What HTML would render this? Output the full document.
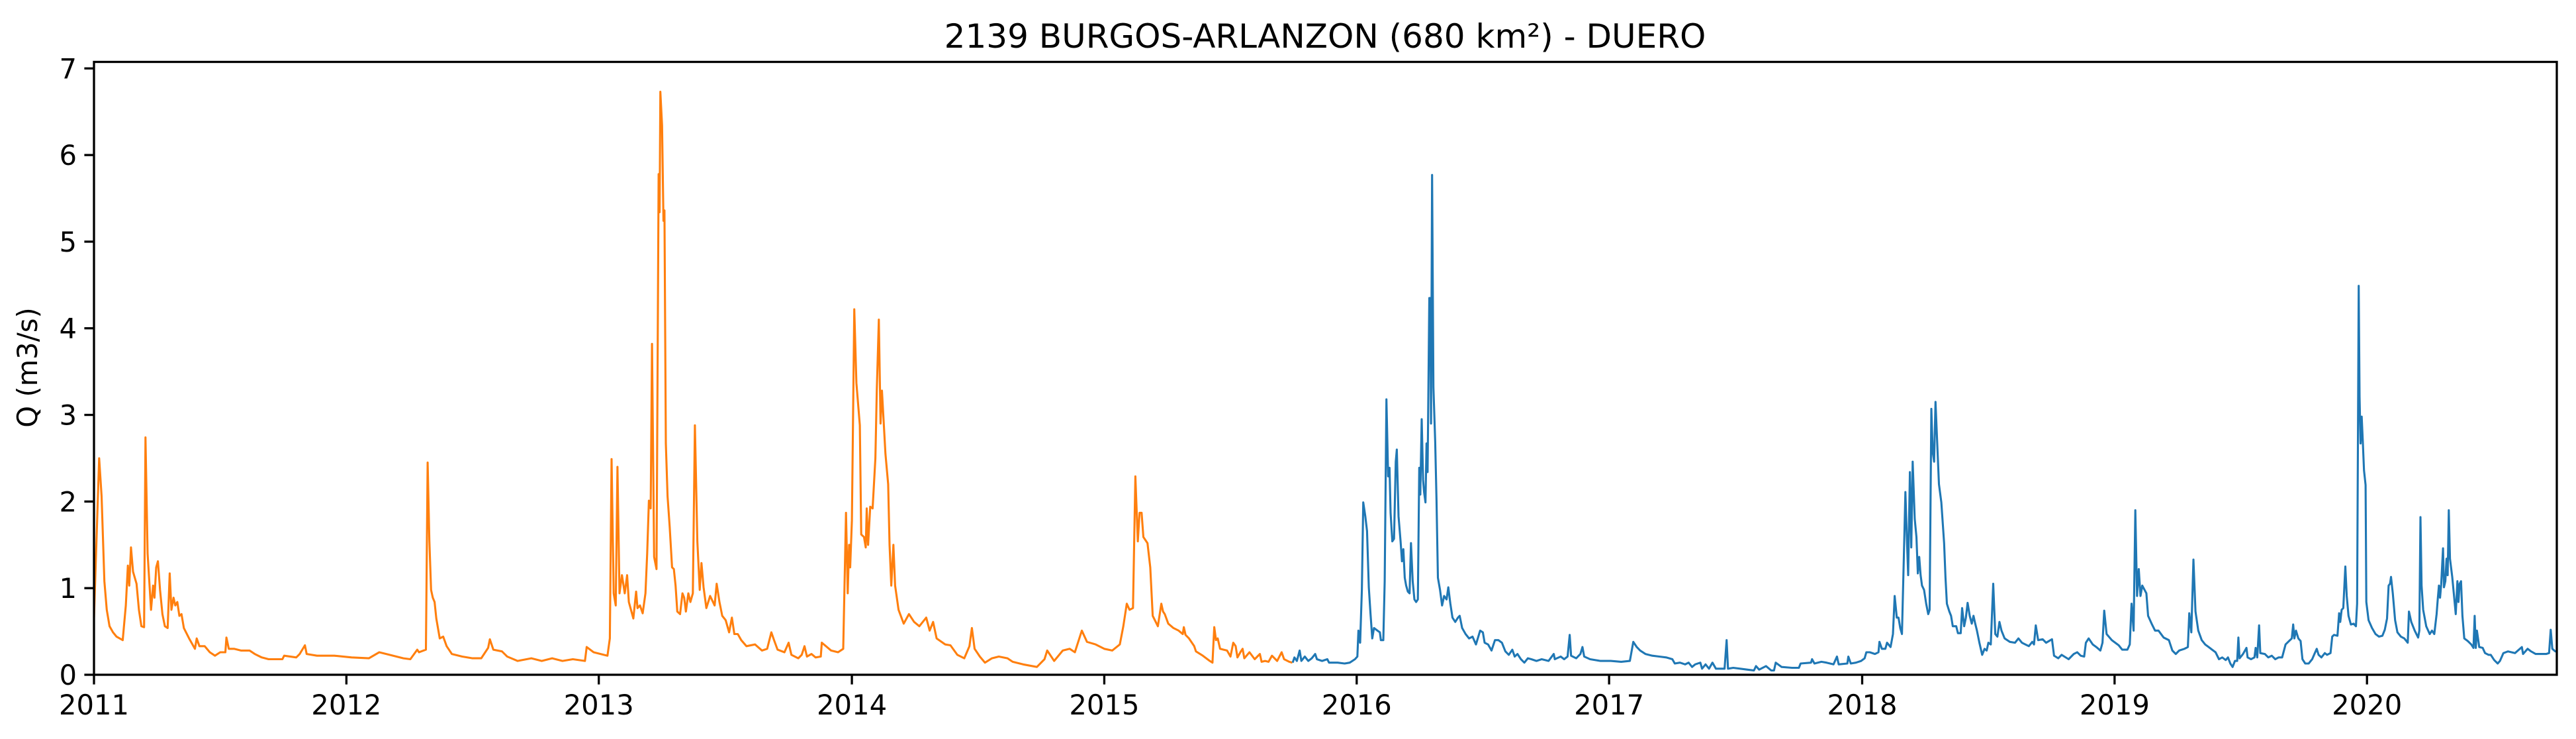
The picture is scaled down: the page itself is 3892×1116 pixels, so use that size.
<!DOCTYPE html>
<html><head><meta charset="utf-8"><style>
html,body{margin:0;padding:0;background:#fff;}
svg{display:block;font-family:"DejaVu Sans","Liberation Sans",sans-serif;}
</style></head><body>
<svg id="chart" width="3892" height="1116" viewBox="0 0 3892 1116" xmlns="http://www.w3.org/2000/svg">
<rect x="0" y="0" width="3892" height="1116" fill="#fff"/>
<text x="2002" y="72" font-size="50" text-anchor="middle">2139 BURGOS-ARLANZON (680 km²) - DUERO</text>
<text transform="translate(56,555) rotate(-90)" font-size="41.7" text-anchor="middle">Q (m3/s)</text>
<g id="series"></g>
<g id="axes"></g>
</svg>
<script>
const xTickLabels = ["2011","2012","2013","2014","2015","2016","2017","2018","2019","2020"];
const xTickDays = [0,365,730,1096,1461,1826,2191,2557,2922,3287];
const yTickLabels = ["0","1","2","3","4","5","6","7"];
const yTickValues = [0,1,2,3,4,5,6,7];
const orangeDays = [0,7.5,11,15,18.5,22.5,27.5,32.5,41.5,46,49,51,53.5,56.5,61.5,65,68.5,72.5,74.5,77.5,82.5,85.5,87.5,90,92.5,95.5,99,102.5,106.5,109.5,112,115,117.5,120.5,123.5,126.5,130,137.5,146,148.5,152.5,160,167.5,175,182.5,190,191.5,195,202.5,212.5,225,232.5,242.5,252.5,272.5,275,292.5,297.5,305,307.5,322.5,347.5,372.5,397.5,412.5,427.5,447.5,457.5,467.5,470,480,482.5,485,487.5,490,492.5,495,500,505,510,517.5,532.5,547.5,560,570,572.5,577.5,590,597.5,612.5,632.5,647.5,662.5,677.5,692.5,710,712.5,722.5,742.5,746,748.5,751.5,754.5,757,760,763.5,767.5,771,773.5,780,784,786,789.5,793.5,797.5,800,802.5,805,807,810,813.5,816.5,818,819,821.5,823.5,825,827,829.5,832.5,836,838.5,841,843.5,847.5,851,853.5,856,859.5,862.5,866,869,872.5,876,878.5,881.5,885.5,891,897.5,900.5,904.5,908.5,913.5,918.5,922.5,926,931,936,943.5,956,966,973.5,979.5,983.5,988.5,998.5,1004.5,1008.5,1018.5,1023.5,1027.5,1031,1037.5,1043.5,1051,1052.5,1058.5,1066,1076,1083.5,1087.5,1090,1092,1093.5,1096,1099.5,1102.5,1107.5,1109.5,1113.5,1116,1117.5,1119.5,1122.5,1126,1130,1132,1135,1137.5,1139.5,1144.5,1148.5,1150.5,1153,1156,1158.5,1163.5,1171,1178.5,1186,1193.5,1203.5,1208.5,1213.5,1218.5,1231,1238.5,1248.5,1258.5,1266,1269.5,1273.5,1281,1288.5,1298.5,1308.5,1321,1328.5,1343.5,1363.5,1374.5,1378.5,1388.5,1401,1411,1418.5,1428.5,1436,1448.5,1461,1472.5,1483.5,1488.5,1493.5,1497.5,1502.5,1506,1509.5,1512,1515,1517.5,1523.5,1527.5,1531,1538.5,1543.5,1546,1548.5,1553.5,1561,1568.5,1574.5,1576,1578.5,1583.5,1591,1593.5,1603.5,1613.5,1617.5,1620,1622.5,1625,1628.5,1633.5,1638.5,1643.5,1647.5,1651,1653.5,1658.5,1661,1663.5,1671,1678.5,1686,1688.5,1693.5,1698.5,1703.5,1711,1717.5,1721,1728.5,1733];
const orangeQ = [0.66,2.5,2.06,1.08,0.75,0.56,0.49,0.44,0.40,0.80,1.26,1.03,1.47,1.19,1.05,0.75,0.56,0.55,2.74,1.40,0.75,1.03,0.89,1.24,1.31,0.98,0.70,0.56,0.54,1.17,0.75,0.89,0.80,0.84,0.68,0.70,0.54,0.42,0.30,0.42,0.33,0.33,0.26,0.22,0.26,0.26,0.43,0.30,0.30,0.28,0.28,0.24,0.20,0.18,0.18,0.22,0.20,0.24,0.34,0.24,0.22,0.22,0.20,0.19,0.26,0.23,0.19,0.18,0.29,0.26,0.29,2.45,1.55,0.98,0.89,0.84,0.65,0.42,0.44,0.33,0.24,0.21,0.19,0.19,0.31,0.41,0.29,0.27,0.21,0.16,0.19,0.16,0.19,0.16,0.18,0.16,0.32,0.26,0.22,0.42,2.49,0.94,0.80,2.40,0.94,1.15,0.94,1.15,0.84,0.65,0.96,0.77,0.80,0.71,0.94,1.40,2.01,1.92,3.82,1.36,1.22,5.78,5.34,6.73,6.34,5.24,5.36,2.67,2.06,1.71,1.24,1.22,1.03,0.73,0.70,0.94,0.89,0.73,0.94,0.84,0.94,2.88,1.54,0.98,1.29,1.01,0.77,0.91,0.80,1.05,0.84,0.68,0.63,0.49,0.66,0.47,0.47,0.40,0.33,0.35,0.28,0.30,0.49,0.40,0.29,0.26,0.37,0.23,0.19,0.23,0.33,0.21,0.24,0.20,0.21,0.37,0.33,0.28,0.26,0.30,1.87,0.94,1.50,1.24,1.78,4.22,3.37,2.88,1.62,1.59,1.47,1.92,1.50,1.94,1.92,2.50,3.28,4.10,2.90,3.28,2.55,2.20,1.50,1.03,1.50,1.03,0.75,0.59,0.70,0.61,0.56,0.66,0.51,0.61,0.42,0.35,0.34,0.23,0.19,0.33,0.54,0.30,0.21,0.14,0.19,0.21,0.19,0.15,0.12,0.09,0.18,0.28,0.16,0.28,0.30,0.26,0.51,0.38,0.35,0.30,0.28,0.35,0.56,0.82,0.75,0.77,2.29,1.54,1.87,1.87,1.59,1.52,1.24,0.68,0.56,0.82,0.73,0.70,0.59,0.54,0.51,0.47,0.55,0.46,0.42,0.33,0.27,0.22,0.16,0.14,0.55,0.40,0.42,0.30,0.29,0.28,0.21,0.37,0.33,0.20,0.27,0.30,0.19,0.26,0.18,0.24,0.15,0.16,0.15,0.22,0.16,0.26,0.18,0.15,0.14];
const blueDays = [1733.5,1736,1739.5,1743.5,1746,1751,1756,1761,1766,1768.5,1776,1783.5,1786,1798.5,1808.5,1816,1823.5,1827,1828.5,1831,1833.5,1835.5,1838.5,1841,1843.5,1846,1848.5,1851,1856,1859.5,1861,1864.5,1866.5,1869,1871.5,1873.5,1875,1877.5,1880,1882.5,1884,1886.5,1889.5,1891.5,1893.5,1895.5,1897.5,1900,1902.5,1904.5,1907,1909.5,1912,1914.5,1916.5,1918,1920,1922,1923.5,1925.5,1927,1928.5,1931,1932.5,1933.5,1935,1937,1939.5,1941.5,1943.5,1946.5,1949.5,1952.5,1956,1958.5,1961.5,1964.5,1968.5,1972.5,1975,1978.5,1983.5,1988.5,1993.5,1998.5,2004.5,2008.5,2011,2016,2021,2026,2031,2036,2041,2046,2051,2054.5,2058.5,2063.5,2068.5,2073.5,2078.5,2086,2093.5,2103.5,2111,2112.5,2121,2126,2131,2134,2136,2143.5,2149.5,2152.5,2155,2163.5,2178.5,2193.5,2208.5,2221,2226,2231,2236,2243.5,2253.5,2263.5,2273.5,2282.5,2286,2293.5,2301,2306,2311,2315.5,2323,2325.5,2330.5,2335.5,2340.5,2345.5,2358,2361,2363,2370.5,2380.5,2390.5,2400.5,2403.5,2408,2418,2425.5,2429.5,2432,2440.5,2455.5,2465.5,2468,2483,2484.5,2488,2498,2505.5,2515.5,2520.5,2523,2535.5,2537,2540.5,2548,2555.5,2560.5,2563,2568,2575.5,2580.5,2582,2585.5,2590.5,2593,2598,2601.5,2604,2607,2609.5,2612,2614.5,2618,2619.5,2622,2623.5,2626,2628,2630,2633,2635.5,2637.5,2639.5,2641.5,2643.5,2646.5,2649.5,2652.5,2654.5,2657,2659,2661,2663,2665.5,2668,2671.5,2675.5,2677.5,2679.5,2683,2685.5,2688,2693,2695.5,2699.5,2701.5,2704.5,2707,2709.5,2712.5,2715.5,2718,2720.5,2723,2726.5,2730.5,2734,2737,2739.5,2743,2746.5,2749.5,2752.5,2755.5,2758.5,2763,2770.5,2778,2783,2788,2793,2798,2803,2805.5,2808,2811.5,2818,2823,2831.5,2834.5,2840.5,2845.5,2855.5,2863,2868,2873,2878,2880.5,2884.5,2890.5,2895.5,2901.5,2904.5,2907,2910.5,2918,2928,2933,2940.5,2944,2946.5,2949.5,2952,2954.5,2957,2959.5,2962,2968,2970.5,2975.5,2980.5,2985.5,2993,3000.5,3005.5,3010.5,3015.5,3023,3028,3030,3033,3036,3039,3043,3048,3053,3058,3063,3068,3073,3077.7,3082.7,3086,3089.3,3092.7,3096,3099.3,3101,3102.7,3107.7,3112.7,3114.3,3119.3,3124.3,3126,3128.3,3131,3132.7,3139.3,3144.3,3149.3,3154.3,3159.3,3164.3,3169.3,3174.3,3178.3,3180.3,3182,3184.3,3187.7,3191,3193.7,3197.7,3202.7,3207.7,3211,3214.3,3217,3221,3226,3229.3,3234.3,3236.7,3239.3,3244.3,3246.7,3248.3,3250.3,3252.7,3255.7,3257.7,3260.3,3263.7,3267.7,3271,3272.7,3275,3276.3,3277.7,3279.3,3281,3282.7,3285,3286,3289.3,3294.3,3299.3,3304.3,3309.3,3312.7,3316,3318.3,3320.3,3321.7,3324.3,3327.7,3331,3336,3341,3346,3347.7,3351,3356,3361,3362.7,3364.3,3366,3368.3,3372.7,3377.7,3381,3384.3,3387.7,3389.3,3391,3392.7,3394.3,3397,3398.3,3400.3,3402,3403.7,3405.3,3407,3410.3,3413.7,3415.3,3417.7,3419.3,3421,3423,3425,3427.7,3432.7,3437.7,3441,3442.7,3444.3,3446,3449.3,3454.3,3457.7,3462.7,3466,3471,3476,3479.3,3484.3,3491,3501,3511,3512.7,3519.3,3524.3,3531,3539.3,3546,3550.3,3552.7,3555,3559.3,3561.7];
const blueQ = [0.14,0.20,0.16,0.28,0.16,0.21,0.16,0.19,0.24,0.18,0.16,0.18,0.14,0.14,0.13,0.14,0.18,0.21,0.51,0.37,0.98,1.99,1.83,1.66,1.01,0.70,0.42,0.54,0.51,0.49,0.40,0.40,1.08,3.18,2.29,2.39,1.87,1.54,1.57,2.46,2.60,1.83,1.54,1.31,1.45,1.12,1.03,0.96,0.94,1.52,1.08,0.87,0.84,0.87,2.39,2.08,2.95,2.25,2.11,1.99,2.67,2.34,4.35,4.35,2.90,5.77,3.32,2.69,2.01,1.12,0.98,0.80,0.91,0.87,1.01,0.82,0.66,0.61,0.66,0.68,0.54,0.47,0.42,0.44,0.35,0.51,0.49,0.37,0.35,0.28,0.40,0.40,0.37,0.27,0.23,0.29,0.21,0.24,0.18,0.14,0.19,0.18,0.16,0.18,0.16,0.24,0.18,0.21,0.18,0.21,0.46,0.22,0.19,0.24,0.32,0.21,0.18,0.16,0.16,0.15,0.16,0.38,0.32,0.28,0.24,0.22,0.21,0.20,0.18,0.13,0.14,0.12,0.14,0.09,0.12,0.14,0.07,0.12,0.07,0.14,0.07,0.07,0.40,0.07,0.08,0.07,0.06,0.05,0.10,0.06,0.10,0.05,0.05,0.14,0.09,0.08,0.08,0.13,0.14,0.18,0.13,0.15,0.14,0.12,0.21,0.12,0.13,0.21,0.13,0.14,0.16,0.19,0.26,0.26,0.24,0.26,0.38,0.30,0.30,0.37,0.32,0.47,0.91,0.66,0.66,0.54,0.47,1.59,2.11,1.50,1.15,2.34,1.47,2.46,1.80,1.59,1.17,1.36,1.15,1.03,0.98,0.82,0.70,0.75,3.07,2.57,2.46,3.15,2.67,2.20,1.99,1.52,1.12,0.82,0.73,0.68,0.56,0.56,0.48,0.48,0.77,0.56,0.66,0.83,0.68,0.59,0.68,0.59,0.51,0.37,0.23,0.30,0.28,0.37,0.35,1.05,0.47,0.44,0.61,0.51,0.42,0.38,0.37,0.42,0.37,0.35,0.33,0.38,0.35,0.57,0.40,0.41,0.37,0.41,0.22,0.19,0.23,0.18,0.24,0.26,0.22,0.21,0.37,0.42,0.35,0.32,0.28,0.37,0.74,0.47,0.40,0.34,0.29,0.29,0.35,0.82,0.51,1.90,0.91,1.22,0.91,1.03,0.94,0.68,0.59,0.51,0.51,0.43,0.40,0.28,0.24,0.28,0.30,0.32,0.71,0.49,1.33,0.73,0.51,0.40,0.35,0.32,0.29,0.26,0.18,0.20,0.17,0.20,0.13,0.09,0.16,0.16,0.43,0.19,0.24,0.31,0.20,0.18,0.20,0.31,0.20,0.57,0.25,0.24,0.20,0.22,0.18,0.20,0.20,0.35,0.39,0.42,0.58,0.42,0.51,0.42,0.39,0.18,0.13,0.13,0.18,0.24,0.30,0.23,0.20,0.25,0.23,0.25,0.44,0.46,0.45,0.71,0.61,0.75,0.77,1.25,0.91,0.68,0.58,0.59,0.56,0.82,4.49,3.21,2.67,2.98,2.69,2.36,2.19,0.84,0.63,0.54,0.47,0.44,0.45,0.52,0.65,1.03,1.05,1.13,0.94,0.63,0.49,0.44,0.42,0.37,0.73,0.61,0.51,0.43,0.51,1.82,1.03,0.75,0.56,0.47,0.51,0.47,0.70,0.87,1.03,0.89,1.04,1.46,1.01,1.08,1.34,1.15,1.90,1.34,1.13,0.84,0.70,1.08,0.84,1.05,1.08,0.68,0.42,0.39,0.35,0.31,0.68,0.31,0.51,0.32,0.31,0.25,0.23,0.23,0.17,0.13,0.16,0.25,0.27,0.25,0.32,0.24,0.30,0.27,0.24,0.24,0.24,0.25,0.52,0.30,0.27,0.27];

const L=142, R=3863, T=93.5, B=1019;
const xMin=0, xMax=3561.5, yMin=0, yMax=7.075;
const NS="http://www.w3.org/2000/svg";
function xScale(d){return L+(d-xMin)/(xMax-xMin)*(R-L);}
function yScale(v){return B-(v-yMin)/(yMax-yMin)*(B-T);}
function mk(tag,attrs){const e=document.createElementNS(NS,tag);for(const k in attrs)e.setAttribute(k,attrs[k]);return e;}
const series=document.getElementById('series');
const axes=document.getElementById('axes');
function line(days,q,color,name){
  let d='';
  for(let i=0;i<days.length;i++){d+=(i?'L':'M')+xScale(days[i]).toFixed(1)+','+yScale(q[i]).toFixed(1);}
  const p=mk('path',{d:d,fill:'none',stroke:color,'stroke-width':3.1,'stroke-linejoin':'round'});
  
  
  series.appendChild(p);
}
line(orangeDays,orangeQ,'#ff7f0e','series-orange');
line(blueDays,blueQ,'#1f77b4','series-blue');
const frame=mk('rect',{x:L,y:T,width:R-L,height:B-T,fill:'none',stroke:'#000','stroke-width':3.3});


axes.appendChild(frame);
for(let i=0;i<xTickDays.length;i++){
  const x=xScale(xTickDays[i]);
  const t=mk('line',{x1:x,x2:x,y1:B,y2:B+14.6,stroke:'#000','stroke-width':3.3});
  
  
  axes.appendChild(t);
  const lb=mk('text',{x:x,y:B+60,'font-size':41.7,'text-anchor':'middle'});
  lb.textContent=xTickLabels[i];
  
  
  axes.appendChild(lb);
}
for(let i=0;i<yTickValues.length;i++){
  const y=yScale(yTickValues[i]);
  const t=mk('line',{x1:L-14.6,x2:L,y1:y,y2:y,stroke:'#000','stroke-width':3.3});
  
  
  axes.appendChild(t);
  const lb=mk('text',{x:L-26,y:y+15,'font-size':41.7,'text-anchor':'end'});
  lb.textContent=yTickLabels[i];
  
  
  axes.appendChild(lb);
}
</script>
</body></html>
